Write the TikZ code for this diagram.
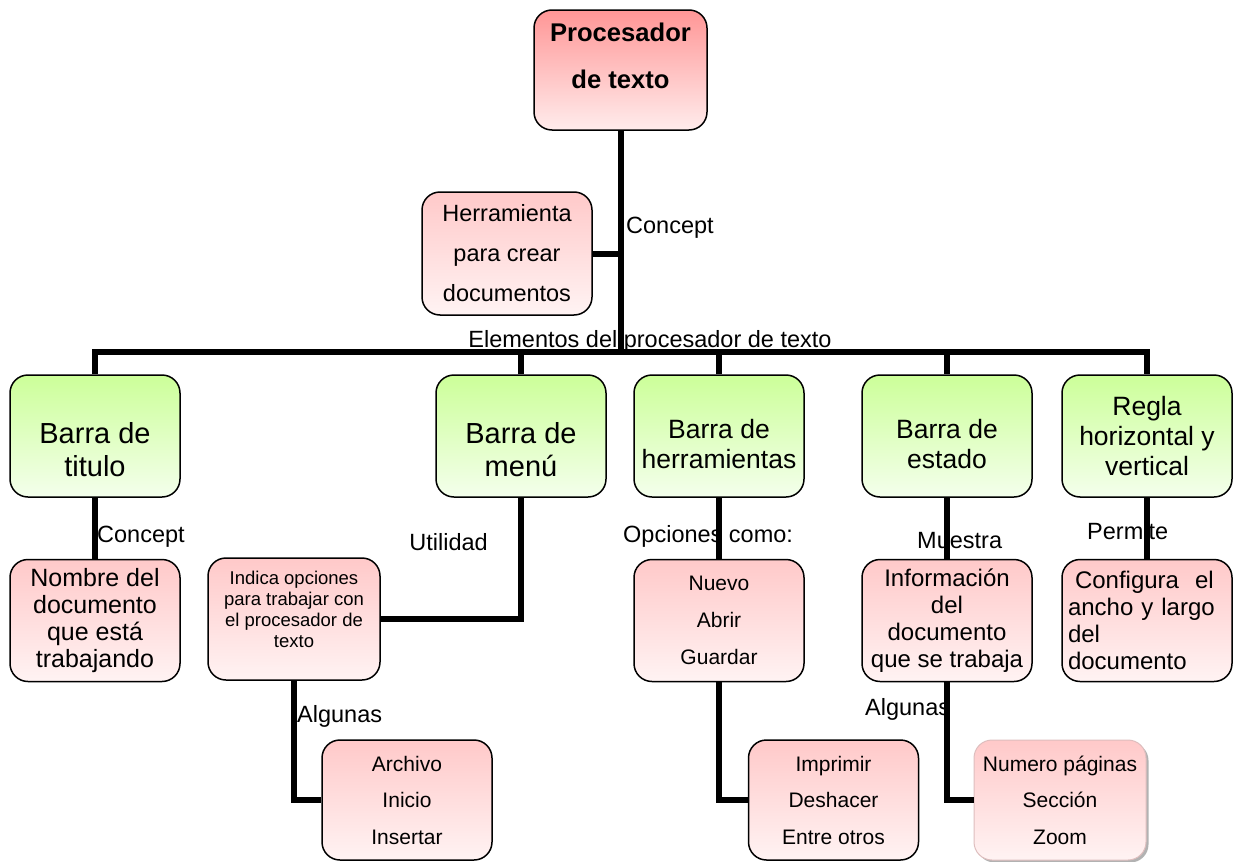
\documentclass[tikz,border=0pt]{standalone}
\usepackage{fontspec}
\setmainfont{Liberation Sans}
\usetikzlibrary{positioning,shadows}
\definecolor{redtop}{RGB}{255,150,150}
\definecolor{redbot}{RGB}{255,236,236}
\definecolor{pinktop}{RGB}{255,201,201}
\definecolor{pinkbot}{RGB}{255,243,243}
\definecolor{greentop}{RGB}{204,255,153}
\definecolor{greenbot}{RGB}{244,255,236}
\definecolor{softedge}{RGB}{222,190,190}
\newcommand{\padtop}[1]{\rule{0pt}{#1pt}}
\newcommand{\padbot}[1]{\rule[-#1pt]{0pt}{#1pt}}

\begin{document}
\begin{tikzpicture}[
    x=1pt,y=1pt,
    node distance=61pt and 28pt,
    box/.style={draw,line width=1.5pt,rounded corners=18pt,minimum width=170pt,minimum height=122pt,align=center,inner sep=2pt},
    redbox/.style={box,top color=redtop,bottom color=redbot},
    greenbox/.style={box,top color=greentop,bottom color=greenbot,font=\fontsize{29}{33}\selectfont},
    pinkbox/.style={box,top color=pinktop,bottom color=pinkbot,font=\fontsize{23.5}{27}\selectfont},
    lbl/.style={inner sep=0pt,font=\fontsize{23.5}{28}\selectfont},
    link/.style={line width=6pt}
]
    \useasboundingbox (0,0) rectangle (1235,-862);

    \node[redbox,minimum width=173pt,minimum height=120pt,font=\fontsize{25.6}{47}\selectfont\bfseries] (proc) at (620.5,-70) {Procesador\\de texto\padbot{28}};
    \node[pinkbox,font=\fontsize{23.5}{40}\selectfont,minimum height=123pt] (herr) at (507,-253.5) {Herramienta\\para crear\\documentos};

    \node[greenbox] (titulo) at (95,-436) {\padtop{49}Barra de\\titulo};
    \node[greenbox] (menu) at (521,-436) {\padtop{49}Barra de\\menú};
    \node[greenbox,font=\fontsize{26.5}{30}\selectfont] (barraherr) at (719,-436) {\padtop{35}Barra de\\herramientas};
    \node[greenbox,font=\fontsize{26.5}{30}\selectfont] (estado) at (947,-436) {\padtop{35}Barra de\\estado};
    \node[greenbox,font=\fontsize{26.5}{30}\selectfont] (regla) at (1147,-436) {Regla\\horizontal y\\vertical};

    \node[pinkbox,below=of titulo,font=\fontsize{25}{27}\selectfont] (nombre) {Nombre del\\documento\\que está\\trabajando};
    \node[pinkbox,minimum width=172pt,font=\fontsize{18.5}{21}\selectfont] (indica) at (294,-619) {Indica opciones\\para trabajar con\\el procesador de\\texto\padbot{20}};
    \node[pinkbox,below=of barraherr,font=\fontsize{21}{37}\selectfont] (nuevo) {Nuevo\\Abrir\\Guardar};
    \node[pinkbox,below=of estado,font=\fontsize{24}{27}\selectfont] (info) {Información\\del\\documento\\que se trabaja};
    \node[pinkbox,below=of regla,font=\fontsize{24}{27}\selectfont,text width=158pt,align=left] (config) {\hspace{7pt}Configura\ \ el\\ancho y largo\\del\\documento};

    \node[pinkbox,minimum height=120pt,font=\fontsize{21}{36.5}\selectfont] (archivo) at (407,-800) {Archivo\\Inicio\\Insertar};
    \node[pinkbox,minimum height=120pt,font=\fontsize{21}{36.5}\selectfont] (imprimir) at (833.5,-800) {Imprimir\\Deshacer\\Entre otros};
    \node[pinkbox,minimum width=172pt,minimum height=120pt,draw=softedge,line width=1pt,
          drop shadow={shadow xshift=2.5pt,shadow yshift=-2.5pt,fill=black,opacity=.3},
          font=\fontsize{21}{36.5}\selectfont] (numero) at (1060,-800) {Numero páginas\\Sección\\Zoom};

    \node[lbl,anchor=base west] (conc) at (626,-233) {Concept};
    \node[lbl,anchor=base] (elem) at (650,-347) {Elementos del procesador de texto};
    \node[lbl,anchor=base west] (conctit) at (97,-542) {Concept};
    \node[lbl,anchor=base east] (util) at (488,-550) {Utilidad};
    \node[lbl,anchor=base west] (opc) at (623,-542) {Opciones como:};
    \node[lbl,anchor=base west] (muestra) at (917,-548) {Muestra};
    \node[lbl,anchor=base west] (permite) at (1087,-539) {Permite};
    \node[lbl,anchor=base west] (alg1) at (297,-722) {Algunas};
    \node[lbl,anchor=base west] (alg2) at (865,-715) {Algunas};

    \coordinate (bus) at (620,-352);
    \draw[link] (proc.south) -- (proc.south |- bus);
    \draw[link] (herr.east) -- (herr.east -| proc.south);
    \draw[link] (titulo.north) -- (titulo.north |- bus) -- (regla.north |- bus) -- (regla.north);
    \draw[link] (menu.north) -- (menu.north |- bus);
    \draw[link] (barraherr.north) -- (barraherr.north |- bus);
    \draw[link] (estado.north) -- (estado.north |- bus);
    \draw[link] (titulo.south) -- (nombre.north);
    \draw[link] (menu.south) |- (indica.east);
    \draw[link] (barraherr.south) -- (nuevo.north);
    \draw[link] (estado.south) -- (info.north);
    \draw[link] (regla.south) -- (config.north);
    \draw[link] (indica.south) |- (archivo.west);
    \draw[link] (nuevo.south) |- (imprimir.west);
    \draw[link] (info.south) |- (numero.west);
\end{tikzpicture}
\end{document}
